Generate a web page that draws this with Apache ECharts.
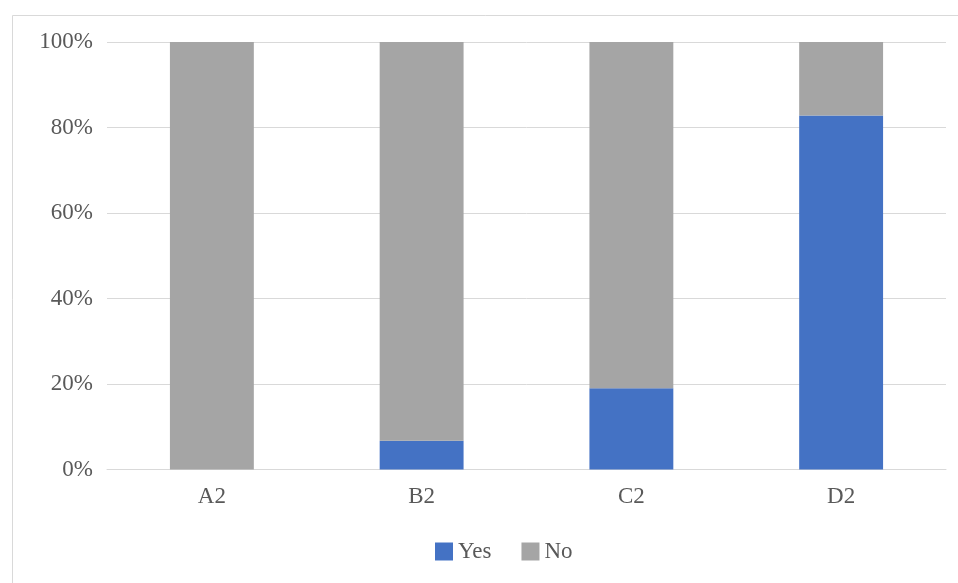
<!DOCTYPE html>
<html>
<head>
<meta charset="utf-8">
<script src="https://cdn.jsdelivr.net/npm/echarts@6/dist/echarts.min.js"></script>
<style>
html,body{margin:0;padding:0;background:#fff;}
#chart{width:958px;height:583px;}
</style>
</head>
<body>
<div id="chart"></div>
<script>
const categories = ['A2', 'B2', 'C2', 'D2'];
const yesValues = [0, 6.7, 19.0, 82.8];
const noValues = [100, 93.3, 81.0, 17.2];
const seriesNames = ['Yes', 'No'];

const chart = echarts.init(document.getElementById('chart'));
const font = 'Liberation Serif';
const textColor = '#595959';
chart.setOption({
  animation: false,
  backgroundColor: '#fff',
  graphic: [
    { type: 'line', shape: { x1: 12.5, y1: 15.5, x2: 958, y2: 15.5 }, style: { stroke: '#d9d9d9', lineWidth: 1 } },
    { type: 'line', shape: { x1: 12.5, y1: 15.5, x2: 12.5, y2: 583 }, style: { stroke: '#d9d9d9', lineWidth: 1 } }
  ],
  grid: { left: 107, right: 12, top: 42, bottom: 113.5 },
  legend: {
    bottom: 15,
    left: 430,
    itemWidth: 18,
    itemHeight: 18,
    itemGap: 30,
    icon: 'rect',
    textStyle: { fontFamily: font, fontSize: 23, color: textColor },
    data: seriesNames
  },
  xAxis: {
    type: 'category',
    data: categories,
    axisLine: { lineStyle: { color: '#d9d9d9', width: 1 } },
    axisTick: { show: false },
    axisLabel: { fontFamily: font, fontSize: 23, color: textColor, margin: 16 }
  },
  yAxis: {
    type: 'value',
    min: 0,
    max: 100,
    interval: 20,
    axisLine: { show: false },
    axisTick: { show: false },
    splitLine: { lineStyle: { color: '#d9d9d9', width: 1 } },
    axisLabel: { fontFamily: font, fontSize: 23, color: textColor, margin: 14, formatter: '{value}%' }
  },
  series: [
    { name: seriesNames[0], type: 'bar', stack: 'total', data: yesValues, barWidth: '40%', itemStyle: { color: '#4472C4' } },
    { name: seriesNames[1], type: 'bar', stack: 'total', data: noValues, barWidth: '40%', itemStyle: { color: '#A5A5A5' } }
  ]
});
</script>
</body>
</html>
